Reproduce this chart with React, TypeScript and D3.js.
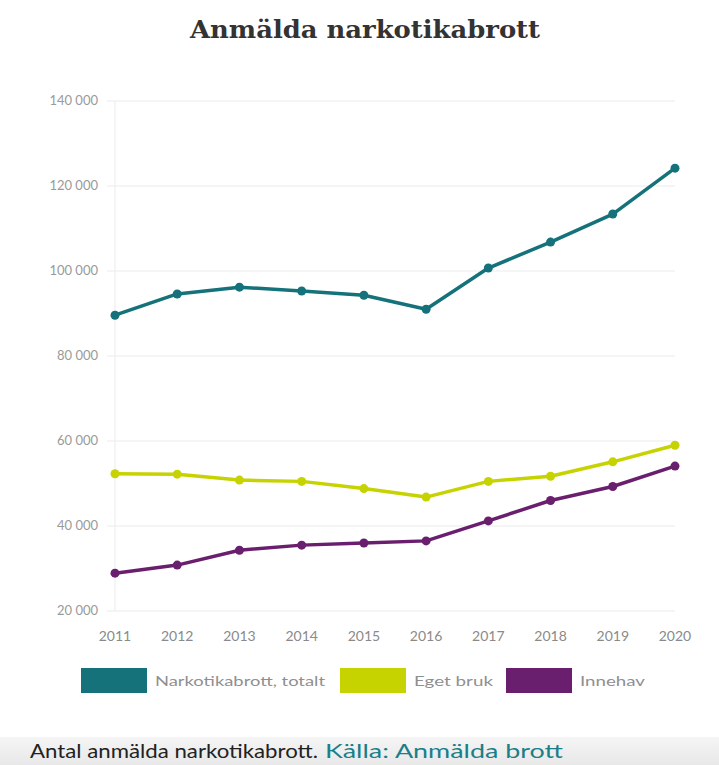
import React, { useEffect, useRef } from 'react';
import * as d3 from 'd3';

const years = ['2011', '2012', '2013', '2014', '2015', '2016', '2017', '2018', '2019', '2020'];
const totalt = [89600, 94600, 96200, 95300, 94300, 91000, 100700, 106800, 113400, 124200];
const egetBruk = [52300, 52200, 50800, 50500, 48800, 46800, 50500, 51700, 55100, 59000];
const innehav = [28900, 30800, 34300, 35500, 36000, 36500, 41200, 46000, 49300, 54100];
const yTicks = [20000, 40000, 60000, 80000, 100000, 120000, 140000];

const seriesNames = ['Narkotikabrott, totalt', 'Eget bruk', 'Innehav'];
const seriesColors = ['#15727a', '#c6d300', '#6a1f6e'];

const W = 719;
const H = 765;

const App = () => {
  const ref = useRef<SVGSVGElement>(null);

  useEffect(() => {
    const svg = d3.select(ref.current);
    svg.selectAll('*').remove();

    const margin = { top: 101, right: 44, bottom: 154, left: 115 };

    const x = d3
      .scalePoint<string>()
      .domain(years)
      .range([margin.left, W - margin.right]);

    const y = d3
      .scaleLinear()
      .domain([20000, 140000])
      .range([H - margin.bottom, margin.top]);

    svg.append('rect').attr('width', W).attr('height', H).attr('fill', '#fff');

    // bottom gray band
    const grad = svg.append('defs').append('linearGradient')
      .attr('id', 'band').attr('x1', 0).attr('y1', 0).attr('x2', 0).attr('y2', 1);
    grad.append('stop').attr('offset', '0%').attr('stop-color', '#f5f5f5');
    grad.append('stop').attr('offset', '100%').attr('stop-color', '#e8e8e8');
    svg.append('rect').attr('x', 0).attr('y', 737).attr('width', W).attr('height', 28).attr('fill', 'url(#band)');

    // title
    svg.append('text')
      .attr('x', 190)
      .attr('y', 38)
      .attr('font-family', 'DejaVu Serif')
      .attr('font-weight', 'bold')
      .attr('font-size', 25)
      .attr('textLength', 350)
      .attr('lengthAdjust', 'spacingAndGlyphs')
      .attr('fill', '#333')
      .text('Anmälda narkotikabrott');

    // grid
    svg.append('g')
      .selectAll('line')
      .data(yTicks)
      .join('line')
      .attr('x1', margin.left - 8)
      .attr('x2', W - margin.right)
      .attr('y1', (d) => y(d))
      .attr('y2', (d) => y(d))
      .attr('stroke', '#ebebeb')
      .attr('stroke-width', 1);

    svg.append('line')
      .attr('x1', margin.left)
      .attr('x2', margin.left)
      .attr('y1', y(140000))
      .attr('y2', y(20000))
      .attr('stroke', '#ebebeb');

    // y labels
    svg.append('g')
      .selectAll('text')
      .data(yTicks)
      .join('text')
      .attr('x', margin.left - 17)
      .attr('y', (d) => y(d) + 4)
      .attr('text-anchor', 'end')
      .attr('font-family', 'Lato')
      .attr('font-size', 13)
      .attr('fill', '#9a9a9a')
      .text((d) => d3.format(',')(d).replace(',', ' '));

    // x labels
    svg.append('g')
      .selectAll('text')
      .data(years)
      .join('text')
      .attr('x', (d) => x(d)!)
      .attr('y', y(20000) + 30)
      .attr('text-anchor', 'middle')
      .attr('font-family', 'Lato')
      .attr('font-size', 14)
      .attr('fill', '#8a8a8a')
      .text((d) => d);

    const allSeries = [totalt, egetBruk, innehav];
    const line = d3
      .line<number>()
      .x((_, i) => x(years[i])!)
      .y((d) => y(d));

    allSeries.forEach((vals, si) => {
      svg.append('path')
        .datum(vals)
        .attr('d', line)
        .attr('fill', 'none')
        .attr('stroke', seriesColors[si])
        .attr('stroke-width', 3.5)
        .attr('stroke-linejoin', 'round');
      svg.append('g')
        .selectAll('circle')
        .data(vals)
        .join('circle')
        .attr('cx', (_, i) => x(years[i])!)
        .attr('cy', (d) => y(d))
        .attr('r', 4.5)
        .attr('fill', seriesColors[si]);
    });

    // legend
    const legendX = [81, 340, 506];
    const legendTextLen = [170, 79, 65];
    const leg = svg.append('g');
    seriesNames.forEach((name, i) => {
      leg.append('rect')
        .attr('x', legendX[i])
        .attr('y', 668)
        .attr('width', 66)
        .attr('height', 25)
        .attr('fill', seriesColors[i]);
      leg.append('text')
        .attr('x', legendX[i] + 74)
        .attr('y', 686)
        .attr('font-family', 'Lato')
        .attr('font-size', 14)
        .attr('textLength', legendTextLen[i])
        .attr('lengthAdjust', 'spacingAndGlyphs')
        .attr('fill', '#8f8f8f')
        .text(name);
    });

    // caption
    svg.append('text')
      .attr('x', 30)
      .attr('y', 758)
      .attr('font-family', 'Lato')
      .attr('font-size', 20)
      .attr('textLength', 288)
      .attr('lengthAdjust', 'spacingAndGlyphs')
      .attr('fill', '#222')
      .text('Antal anmälda narkotikabrott.');
    svg.append('text')
      .attr('x', 325)
      .attr('y', 758)
      .attr('font-family', 'Lato')
      .attr('font-size', 20)
      .attr('textLength', 238)
      .attr('lengthAdjust', 'spacingAndGlyphs')
      .attr('fill', '#1a7f88')
      .text('Källa: Anmälda brott');
  }, []);

  return (
    <div style={{ position: 'absolute', left: 0, top: 0, width: W, height: H }}>
      <svg ref={ref} width={W} height={H} style={{ display: 'block' }}></svg>
    </div>
  );
};

export default App;
